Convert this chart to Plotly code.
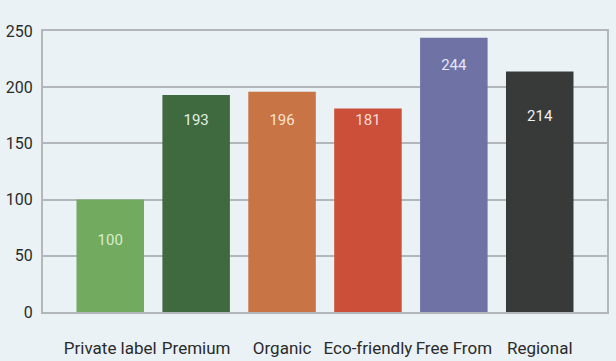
import plotly.graph_objects as go

categories = ["Private label", "Premium", "Organic", "Eco-friendly", "Free From", "Regional"]
values = [100, 193, 196, 181, 244, 214]
bar_colors = ["#72aa60", "#3f6a40", "#c87445", "#cc4f3a", "#6f72a4", "#383a3a"]
label_colors = ["#d9edc9", "#e3f0e0", "#fde2cf", "#fbdcd4", "#e6e6f8", "#f0f0f0"]
label_y = [63, 170, 170, 170, 219, 173]
y_ticks = [0, 50, 100, 150, 200, 250]

BG = "#eaf2f5"
FONT = "Roboto"

fig = go.Figure()
fig.add_trace(go.Bar(
    x=categories, y=values,
    marker=dict(color=bar_colors, line=dict(width=0)),
    hoverinfo="x+y",
    showlegend=False,
))
fig.add_trace(go.Scatter(
    x=categories, y=label_y, mode="text",
    text=[str(v) for v in values],
    textfont=dict(family=FONT, size=15, color=label_colors),
    hoverinfo="skip", showlegend=False, cliponaxis=False,
))

fig.update_layout(
    width=616, height=361,
    margin=dict(l=43, r=9, t=31, b=49, autoexpand=False),
    paper_bgcolor=BG, plot_bgcolor=BG,
    bargap=0.214,
    font=dict(family=FONT, size=16, color="#2b2b2b"),
)
fig.update_xaxes(
    range=[-0.783, 5.783], automargin=False,
    showgrid=False, zeroline=False,
    showline=True, mirror=True, linecolor="#b3b7b9", linewidth=2,
    ticks="", ticklabelstandoff=20,
    tickfont=dict(family=FONT, size=17, color="#2b2b2b"),
)
fig.update_yaxes(
    range=[0, 250], tickvals=y_ticks, automargin=False,
    showgrid=True, gridcolor="#b3b7b9", gridwidth=1.5,
    zeroline=False,
    showline=True, mirror=True, linecolor="#b3b7b9", linewidth=2,
    ticks="", ticklabelstandoff=5,
    tickfont=dict(family=FONT, size=16, color="#2b2b2b"),
)

fig.write_html(
    "out.html",
    config={"displayModeBar": False},
    post_script="document.body.style.margin='0';document.body.style.background='" + BG + "';",
)
